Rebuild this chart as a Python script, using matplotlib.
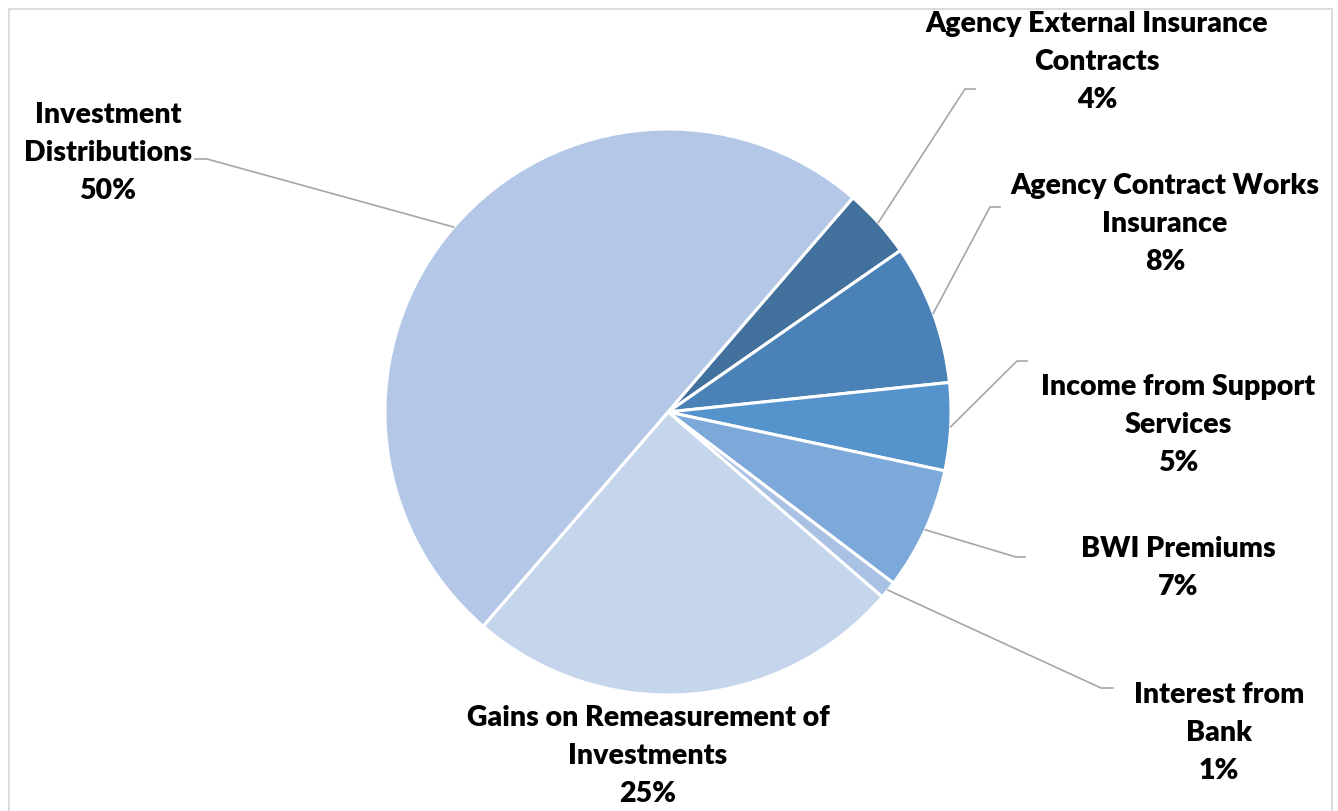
import numpy as np
import matplotlib.pyplot as plt
from matplotlib.patches import Rectangle

plt.rcParams['font.family'] = ['Lato', 'DejaVu Sans']

# slices in clockwise order, starting just past the top of the pie
labels = ['Agency External Insurance\nContracts', 'Agency Contract Works\nInsurance',
          'Income from Support\nServices', 'BWI Premiums', 'Interest from\nBank',
          'Gains on Remeasurement of\nInvestments', 'Investment\nDistributions']
shares = [4, 8, 5, 7, 1, 25, 50]
colors = ['#41719C', '#4A82B8', '#5593CC', '#7DA9DA', '#A9C2E4', '#C5D5EB', '#B4C7E7']

# label centres and leader elbows in pixel space (x from left, y from top)
label_px = [(1097, 62), (1165, 224), (1178, 425), (1178, 568), (1219, 733), (648, 756), (108, 153)]
elbow_px = [(965, 90), (990, 208), (1017, 362), (1016, 558), (1101, 689), None, (207, 160)]
end_px = [(975, 90), (1000, 208), (1027, 362), (1025, 558), (1113, 689), None, (195, 160)]

W, H = 1338, 812
cx, cy, R = 668, 413, 283


def to_data(p):
    return ((p[0] - cx) / R, (cy - p[1]) / R)


fig = plt.figure(figsize=(W / 100, H / 100), dpi=100)
ax = fig.add_axes([0, 0, 1, 1])

start = 90 - 40.8
wedges, _ = ax.pie(shares, colors=colors, startangle=start, counterclock=False,
                   radius=1, center=(0, 0), frame=True,
                   wedgeprops=dict(edgecolor='white', linewidth=2.2))
ax.set_xlim(-cx / R, (W - cx) / R)
ax.set_ylim(-(H - cy) / R, cy / R)
ax.set_aspect('equal')
ax.axis('off')

for i, w in enumerate(wedges):
    lx, ly = to_data(label_px[i])
    ax.text(lx, ly, '%s\n%d%%' % (labels[i], shares[i]), ha='center', va='center',
            fontsize=20.5, fontweight='heavy', color='black', linespacing=1.57)
    if elbow_px[i] is None:
        continue
    mid = np.deg2rad((w.theta1 + w.theta2) / 2)
    p0 = (np.cos(mid), np.sin(mid))
    p1 = to_data(elbow_px[i])
    p2 = to_data(end_px[i])
    ax.plot([p0[0], p1[0], p2[0]], [p0[1], p1[1], p2[1]], color='#A6A6A6', lw=1.2,
            solid_joinstyle='miter')

# chart frame
fig.patches.append(Rectangle((9 / W, -0.05), (1332 - 9) / W, 1.05 - 10 / H, transform=fig.transFigure,
                             fill=False, edgecolor='#D9D9D9', linewidth=1.3))

fig.savefig('out.png', dpi=100, facecolor='white')
